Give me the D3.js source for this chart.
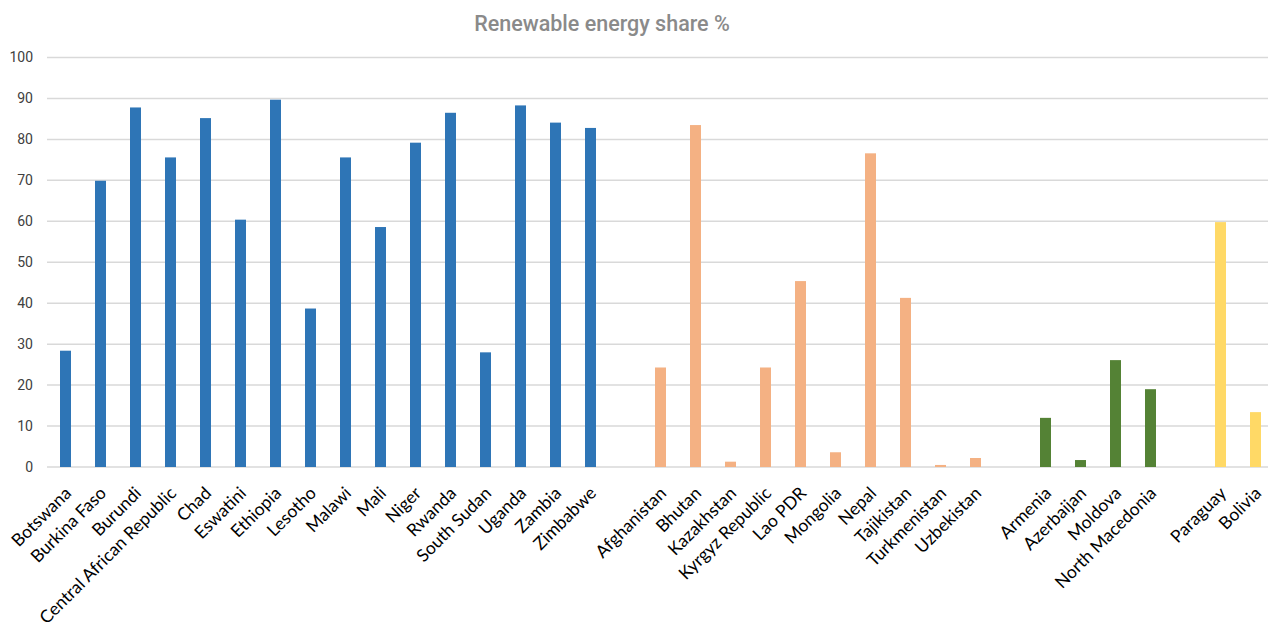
<!DOCTYPE html>
<html>
<head>
<meta charset="utf-8">
<script src="https://cdn.jsdelivr.net/npm/d3@7"></script>
<style>
  html, body { margin: 0; padding: 0; background: #ffffff; }
  svg { display: block; }
</style>
</head>
<body>
<svg id="chart" width="1268" height="623"></svg>
<script>
// Renewable energy share (%) by country, grouped by region
const africaCountries = ["Botswana", "Burkina Faso", "Burundi", "Central African Republic", "Chad", "Eswatini",
  "Ethiopia", "Lesotho", "Malawi", "Mali", "Niger", "Rwanda", "South Sudan", "Uganda", "Zambia", "Zimbabwe"];
const africaShare = [28.4, 69.9, 87.8, 75.6, 85.2, 60.4, 89.7, 38.7, 75.6, 58.6, 79.2, 86.5, 28.0, 88.3, 84.1, 82.8];

const asiaCountries = ["Afghanistan", "Bhutan", "Kazakhstan", "Kyrgyz Republic", "Lao PDR", "Mongolia",
  "Nepal", "Tajikistan", "Turkmenistan", "Uzbekistan"];
const asiaShare = [24.3, 83.5, 1.3, 24.3, 45.4, 3.6, 76.6, 41.3, 0.5, 2.2];

const europeCountries = ["Armenia", "Azerbaijan", "Moldova", "North Macedonia"];
const europeShare = [12.0, 1.7, 26.1, 19.0];

const latamCountries = ["Paraguay", "Bolivia"];
const latamShare = [59.8, 13.4];

const regionColors = ["#2E75B6", "#F4B183", "#548235", "#FFD966"];
const yTicks = [0, 10, 20, 30, 40, 50, 60, 70, 80, 90, 100];
const chartTitle = "Renewable energy share %";

// Assemble rows; an empty slot separates consecutive regions
const regions = [
  [africaCountries, africaShare],
  [asiaCountries, asiaShare],
  [europeCountries, europeShare],
  [latamCountries, latamShare]
];
const rows = [];
const domain = [];
regions.forEach(([names, vals], ri) => {
  if (ri > 0) domain.push("__gap" + ri);
  names.forEach((n, i) => {
    domain.push(n);
    rows.push({ name: n, value: vals[i], color: regionColors[ri] });
  });
});

const svg = d3.select("#chart");

const x = d3.scaleBand()
  .domain(domain)
  .range([48, 1273])
  .paddingInner(0.686)
  .paddingOuter(0.343);

const y = d3.scaleLinear().domain([0, 100]).range([467, 57.5]);

// Horizontal gridlines
svg.append("g")
  .selectAll("line")
  .data(yTicks)
  .join("line")
  .attr("x1", 47)
  .attr("x2", 1268)
  .attr("y1", d => y(d))
  .attr("y2", d => y(d))
  .attr("stroke", "#d9d9d9")
  .attr("stroke-width", 1.5);

// Y axis labels
const yAxis = d3.axisLeft(y).tickValues(yTicks).tickSize(0).tickPadding(0);
svg.append("g")
  .attr("transform", "translate(33,0)")
  .call(yAxis)
  .call(g => g.select(".domain").remove())
  .call(g => g.selectAll("text")
    .attr("font-family", "Roboto, 'Noto Sans', sans-serif")
    .attr("font-size", 14)
    .attr("fill", "#404040"));

// Bars
svg.append("g")
  .selectAll("rect")
  .data(rows)
  .join("rect")
  .attr("x", d => x(d.name))
  .attr("width", x.bandwidth())
  .attr("y", d => y(d.value))
  .attr("height", d => y(0) - y(d.value))
  .attr("fill", d => d.color);

// Category labels, rotated 45 degrees and ending just right of each bar
const xAxis = d3.axisBottom(x).tickSize(0).tickPadding(0)
  .tickFormat(d => d.startsWith("__gap") ? "" : d);
svg.append("g")
  .attr("transform", "translate(0,490)")
  .call(xAxis)
  .call(g => g.select(".domain").remove())
  .call(g => g.selectAll("text")
    .attr("font-family", "Lato, 'Open Sans', sans-serif")
    .attr("font-size", 17.5)
    .attr("fill", "#000000")
    .attr("text-anchor", "end")
    .attr("y", 0)
    .attr("dy", "0.35em")
    .attr("transform", "translate(2.5,0) rotate(-45)"));

// Title
svg.append("text")
  .attr("x", 602)
  .attr("y", 30.5)
  .attr("text-anchor", "middle")
  .attr("font-family", "Roboto, sans-serif")
  .attr("font-weight", 500)
  .attr("font-size", 21.5)
  .attr("fill", "#8a8a8a")
  .text(chartTitle);
</script>
</body>
</html>
